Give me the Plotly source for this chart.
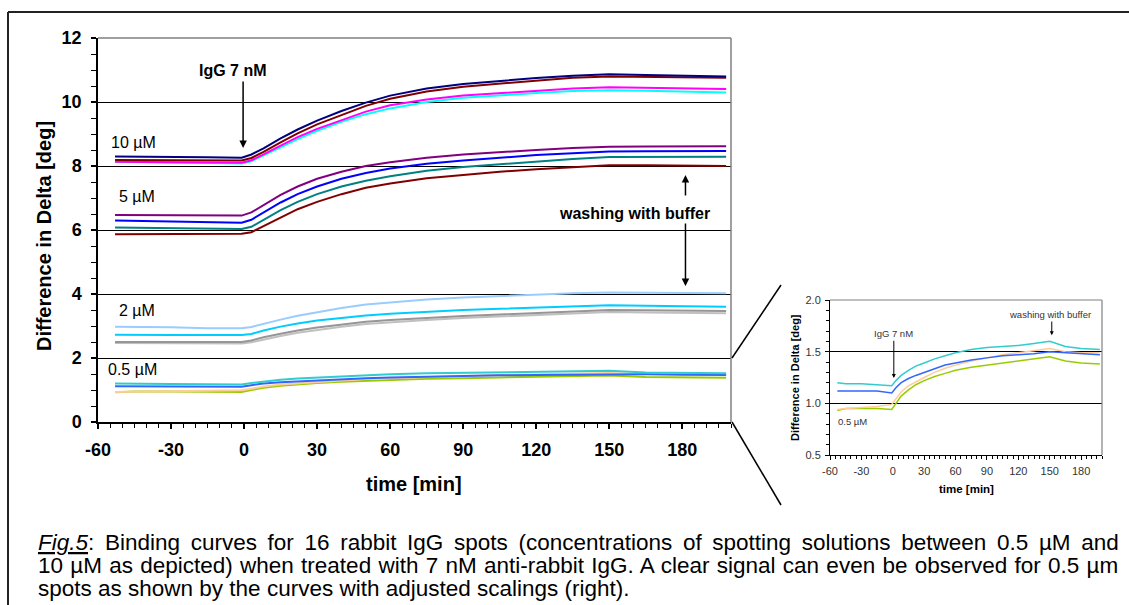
import plotly.graph_objects as go

# ---------------- data ----------------
T = [-53, -45, -30, -15, -1, 3, 8, 15, 22, 30, 40, 50, 60, 75, 90, 105, 120, 135, 150, 165, 180, 198]

# 10 uM spots
navy_10 = [8.30, 8.29, 8.28, 8.27, 8.26, 8.36, 8.55, 8.86, 9.14, 9.42, 9.72, 9.98, 10.20, 10.42, 10.56, 10.66, 10.75, 10.82, 10.87, 10.84, 10.82, 10.80]
red_10 = [8.19, 8.19, 8.18, 8.18, 8.17, 8.25, 8.44, 8.74, 9.02, 9.30, 9.60, 9.88, 10.10, 10.33, 10.48, 10.58, 10.68, 10.76, 10.80, 10.79, 10.77, 10.76]
magenta_10 = [8.13, 8.12, 8.12, 8.11, 8.10, 8.18, 8.36, 8.64, 8.90, 9.16, 9.44, 9.70, 9.90, 10.08, 10.20, 10.28, 10.36, 10.42, 10.46, 10.44, 10.42, 10.41]
cyan_10 = [8.13, 8.12, 8.11, 8.10, 8.08, 8.15, 8.32, 8.58, 8.84, 9.10, 9.38, 9.62, 9.80, 10.00, 10.13, 10.21, 10.28, 10.34, 10.37, 10.35, 10.33, 10.30]

# 5 uM spots
purple_5 = [6.47, 6.47, 6.46, 6.46, 6.45, 6.55, 6.78, 7.10, 7.36, 7.60, 7.82, 8.00, 8.12, 8.26, 8.36, 8.44, 8.50, 8.56, 8.60, 8.61, 8.62, 8.62]
blue_5 = [6.30, 6.29, 6.27, 6.25, 6.23, 6.32, 6.55, 6.86, 7.12, 7.36, 7.60, 7.78, 7.92, 8.07, 8.17, 8.26, 8.34, 8.40, 8.45, 8.46, 8.47, 8.47]
teal_5 = [6.08, 6.07, 6.06, 6.05, 6.03, 6.10, 6.32, 6.62, 6.88, 7.12, 7.36, 7.54, 7.68, 7.85, 7.97, 8.06, 8.15, 8.22, 8.28, 8.29, 8.29, 8.29]
maroon_5 = [5.87, 5.87, 5.87, 5.88, 5.88, 5.93, 6.12, 6.40, 6.65, 6.88, 7.12, 7.32, 7.45, 7.62, 7.73, 7.82, 7.90, 7.97, 8.02, 8.02, 8.01, 8.00]

# 2 uM spots
lightblue_2 = [2.98, 2.98, 2.96, 2.93, 2.93, 2.97, 3.07, 3.20, 3.32, 3.43, 3.56, 3.67, 3.74, 3.83, 3.89, 3.94, 3.98, 4.02, 4.05, 4.04, 4.03, 4.02]
sky_2 = [2.73, 2.72, 2.72, 2.72, 2.72, 2.75, 2.86, 2.98, 3.08, 3.17, 3.26, 3.33, 3.38, 3.45, 3.50, 3.54, 3.58, 3.62, 3.65, 3.63, 3.61, 3.60]
gray_2 = [2.50, 2.50, 2.49, 2.48, 2.50, 2.55, 2.65, 2.76, 2.86, 2.95, 3.05, 3.13, 3.19, 3.26, 3.31, 3.36, 3.41, 3.46, 3.50, 3.49, 3.48, 3.47]
silver_2 = [2.47, 2.47, 2.46, 2.45, 2.45, 2.49, 2.58, 2.69, 2.79, 2.88, 2.98, 3.06, 3.12, 3.19, 3.25, 3.30, 3.35, 3.40, 3.44, 3.42, 3.41, 3.40]

# 0.5 uM spots
turq_05 = [1.20, 1.19, 1.19, 1.18, 1.17, 1.22, 1.27, 1.32, 1.36, 1.39, 1.43, 1.46, 1.49, 1.52, 1.54, 1.55, 1.56, 1.58, 1.60, 1.55, 1.53, 1.52]
royal_05 = [1.12, 1.12, 1.12, 1.12, 1.10, 1.15, 1.20, 1.24, 1.27, 1.30, 1.34, 1.37, 1.39, 1.42, 1.44, 1.46, 1.47, 1.48, 1.50, 1.49, 1.48, 1.47]
peach_05 = [0.94, 0.95, 0.96, 0.97, 0.99, 1.04, 1.11, 1.17, 1.21, 1.25, 1.30, 1.34, 1.37, 1.41, 1.44, 1.47, 1.49, 1.51, 1.53, 1.50, 1.49, 1.49]
green_05 = [0.93, 0.95, 0.95, 0.95, 0.94, 1.00, 1.07, 1.13, 1.18, 1.22, 1.26, 1.29, 1.32, 1.35, 1.37, 1.39, 1.41, 1.43, 1.45, 1.41, 1.39, 1.38]

main_series = [
    (cyan_10, "#00FFFF"), (magenta_10, "#FF00FF"), (red_10, "#800000"), (navy_10, "#000080"),
    (maroon_5, "#800000"), (teal_5, "#008080"), (blue_5, "#0000FF"), (purple_5, "#800080"),
    (silver_2, "#C0C0C0"), (gray_2, "#969696"), (sky_2, "#00CCFF"), (lightblue_2, "#99CCFF"),
    (green_05, "#99CC00"), (peach_05, "#FFCC99"), (royal_05, "#3366FF"), (turq_05, "#33CCCC"),
]
inset_series = [(green_05, "#99CC00"), (peach_05, "#FFCC99"), (royal_05, "#3366FF"), (turq_05, "#33CCCC")]

x_ticks = [-60, -30, 0, 30, 60, 90, 120, 150, 180]
x_ticktext = ["-60", "-30", "0", "30", "60", "90", "120", "150", "180"]
caption_lines = [
    "<i><u>Fig.5</u></i>: Binding curves for 16 rabbit IgG spots (concentrations of spotting solutions between 0.5 µM and",
    "10 µM as depicted) when treated with 7 nM anti-rabbit IgG. A clear signal can even be observed for 0.5 µm",
    "spots as shown by the curves with adjusted scalings (right).",
]
caption_wordspacing = [4.4, 1.0, 0.0]

# ---------------- figure ----------------
W, H = 1129, 605
def px(x):
    return x / W
def py(y):
    return 1 - y / H

FONT = "Arial, Liberation Sans, Helvetica, sans-serif"
fig = go.Figure()

for ys, c in main_series:
    fig.add_trace(go.Scatter(x=T, y=ys, mode="lines", line=dict(color=c, width=2),
                             xaxis="x", yaxis="y", showlegend=False, hoverinfo="skip"))
for ys, c in inset_series:
    fig.add_trace(go.Scatter(x=T, y=ys, mode="lines", line=dict(color=c, width=1.5),
                             xaxis="x2", yaxis="y2", showlegend=False, hoverinfo="skip"))

main_xdom = [px(98), px(731)]
main_ydom = [py(422), py(38)]
ins_xdom = [px(830), px(1102)]
ins_ydom = [py(455), py(300)]

bold18 = dict(family=FONT, size=18, color="black", weight="bold")
reg11 = dict(family=FONT, size=11, color="#333333")

fig.update_layout(
    template="none",
    width=W, height=H, margin=dict(l=0, r=0, t=0, b=0, pad=0, autoexpand=False),
    paper_bgcolor="white", plot_bgcolor="white", font=dict(family=FONT, color="black"),
    showlegend=False,
    xaxis=dict(domain=main_xdom, anchor="y", range=[-60, 200], tickmode="array", tickvals=x_ticks,
               ticktext=x_ticktext, automargin=False,
               ticks="outside", ticklen=5, tickwidth=1.5, tickcolor="black",
               showline=True, linecolor="black", linewidth=1.5, showgrid=False, zeroline=False,
               tickfont=bold18, ticklabelstandoff=6,
               minor=dict(tickmode="linear", tick0=-60, dtick=5, ticks="outside", ticklen=4,
                          tickwidth=1, tickcolor="black", showgrid=False)),
    yaxis=dict(domain=main_ydom, anchor="x", range=[0, 12], tick0=0, dtick=2, automargin=False,
               ticks="outside", ticklen=5, tickwidth=1.5, tickcolor="black",
               showline=True, linecolor="black", linewidth=1.5, showgrid=True,
               gridcolor="black", gridwidth=1, zeroline=False, tickfont=bold18, ticklabelstandoff=6,
               minor=dict(tick0=0, dtick=0.5, ticks="outside", ticklen=5, tickwidth=1,
                          tickcolor="black", showgrid=False)),
    xaxis3=dict(overlaying="x", anchor="y", range=[-60, 200], tickmode="array", tickvals=x_ticks,
                ticks="inside", ticklen=6, tickwidth=1.5, tickcolor="black", showticklabels=False,
                showline=False, showgrid=False, zeroline=False, automargin=False),
    xaxis2=dict(domain=ins_xdom, anchor="y2", range=[-60, 200], tickmode="array", tickvals=x_ticks,
                ticktext=x_ticktext, automargin=False,
                ticks="outside", ticklen=4, tickwidth=1, tickcolor="black",
                showline=True, linecolor="black", linewidth=1, showgrid=False, zeroline=False,
                tickfont=reg11, ticklabelstandoff=2,
                minor=dict(tickmode="linear", tick0=-60, dtick=5, ticks="outside", ticklen=3,
                           tickwidth=1, tickcolor="black", showgrid=False)),
    yaxis2=dict(domain=ins_ydom, anchor="x2", range=[0.5, 2.0], tick0=0.5, dtick=0.5, tickformat=".1f",
                automargin=False, ticks="outside", ticklen=4, tickwidth=1, tickcolor="black",
                showline=True, linecolor="black", linewidth=1, showgrid=True,
                gridcolor="black", gridwidth=1, zeroline=False, tickfont=reg11, ticklabelstandoff=2,
                minor=dict(tick0=0.5, dtick=0.1, ticks="outside", ticklen=3, tickwidth=1,
                           tickcolor="black", showgrid=False)),
    xaxis4=dict(overlaying="x2", anchor="y2", range=[-60, 200], tickmode="array", tickvals=x_ticks,
                ticks="inside", ticklen=4, tickwidth=1, tickcolor="black", showticklabels=False,
                showline=False, showgrid=False, zeroline=False, automargin=False),
)

shapes = []
# outer frame
shapes.append(dict(type="line", xref="paper", yref="paper", x0=px(8), x1=1, y0=py(12), y1=py(12),
                   line=dict(color="#222222", width=2)))
shapes.append(dict(type="line", xref="paper", yref="paper", x0=px(8), x1=px(8), y0=py(12), y1=0,
                   line=dict(color="#222222", width=2)))
# grey top / right plot borders
for xr, yr, w in (("x domain", "y domain", 1.5), ("x2 domain", "y2 domain", 1.2)):
    shapes.append(dict(type="line", xref=xr, yref=yr, x0=0, x1=1, y0=1, y1=1,
                       line=dict(color="#808080", width=w), layer="above"))
    shapes.append(dict(type="line", xref=xr, yref=yr, x0=1, x1=1, y0=0, y1=1,
                       line=dict(color="#808080", width=w), layer="above"))
# zoom connector lines
shapes.append(dict(type="line", xref="paper", yref="paper", x0=px(732), y0=py(358), x1=px(781), y1=py(285),
                   line=dict(color="black", width=1.5)))
shapes.append(dict(type="line", xref="paper", yref="paper", x0=px(732), y0=py(422), x1=px(781), y1=py(505),
                   line=dict(color="black", width=1.5)))
fig.update_layout(shapes=shapes)

ann = []
def ptext(x, y, text, size, bold=False, color="black", xanchor="center", angle=0):
    f = dict(family=FONT, size=size, color=color)
    if bold:
        f["weight"] = "bold"
    ann.append(dict(xref="paper", yref="paper", x=px(x), y=py(y), text=text, showarrow=False,
                    font=f, xanchor=xanchor, yanchor="middle", textangle=angle))

def arrow(xr, yr, x, y_tip, y_tail, width=1.5, size=1.0):
    ann.append(dict(xref=xr, yref=yr, axref=xr, ayref=yr, x=x, y=y_tip, ax=x, ay=y_tail, text="",
                    showarrow=True, arrowhead=2, arrowsize=size, arrowwidth=width, arrowcolor="black",
                    standoff=0, startstandoff=0))

# main chart labels
ptext(233, 70, "IgG 7 nM", 16, bold=True)
arrow("x", "y", -0.4, 8.56, 10.69)
ptext(109, 143, "10 µM", 16, xanchor="left")
ptext(117, 197, "5 µM", 16, xanchor="left")
ptext(117, 310, "2 µM", 16, xanchor="left")
ptext(106, 369, "0.5 µM", 16, xanchor="left")
ptext(634, 213, "washing with buffer", 16, bold=True)
arrow("x", "y", 181.3, 7.72, 7.03)
arrow("x", "y", 181.3, 4.25, 6.25)
ptext(44, 236, "Difference in Delta [deg]", 20, bold=True, angle=-90)
ptext(414, 484, "time [min]", 20, bold=True)

# inset labels
ptext(893, 333, "IgG 7 nM", 9.5, color="#333333")
arrow("x2", "y2", 1, 1.245, 1.62, width=1, size=0.8)
ptext(1050, 314, "washing with buffer", 9.5, color="#333333")
arrow("x2", "y2", 152, 1.66, 1.806, width=1, size=0.8)
ptext(836, 421, "0.5 µM", 9.5, color="#333333", xanchor="left")
ptext(795, 378, "Difference in Delta [deg]", 11, bold=True, angle=-90)
ptext(966, 489, "time [min]", 11.5, bold=True)

# caption (justified lines via word spacing)
for i, (line, ws) in enumerate(zip(caption_lines, caption_wordspacing)):
    txt = f'<span style="word-spacing:{ws}px">{line}</span>' if ws else line
    ptext(36, 542.5 + 23 * i, txt, 22.5, xanchor="left")

fig.update_layout(annotations=ann)

fig.write_html("out.html", config={"displayModeBar": False},
               post_script="document.body.style.margin='0';")
